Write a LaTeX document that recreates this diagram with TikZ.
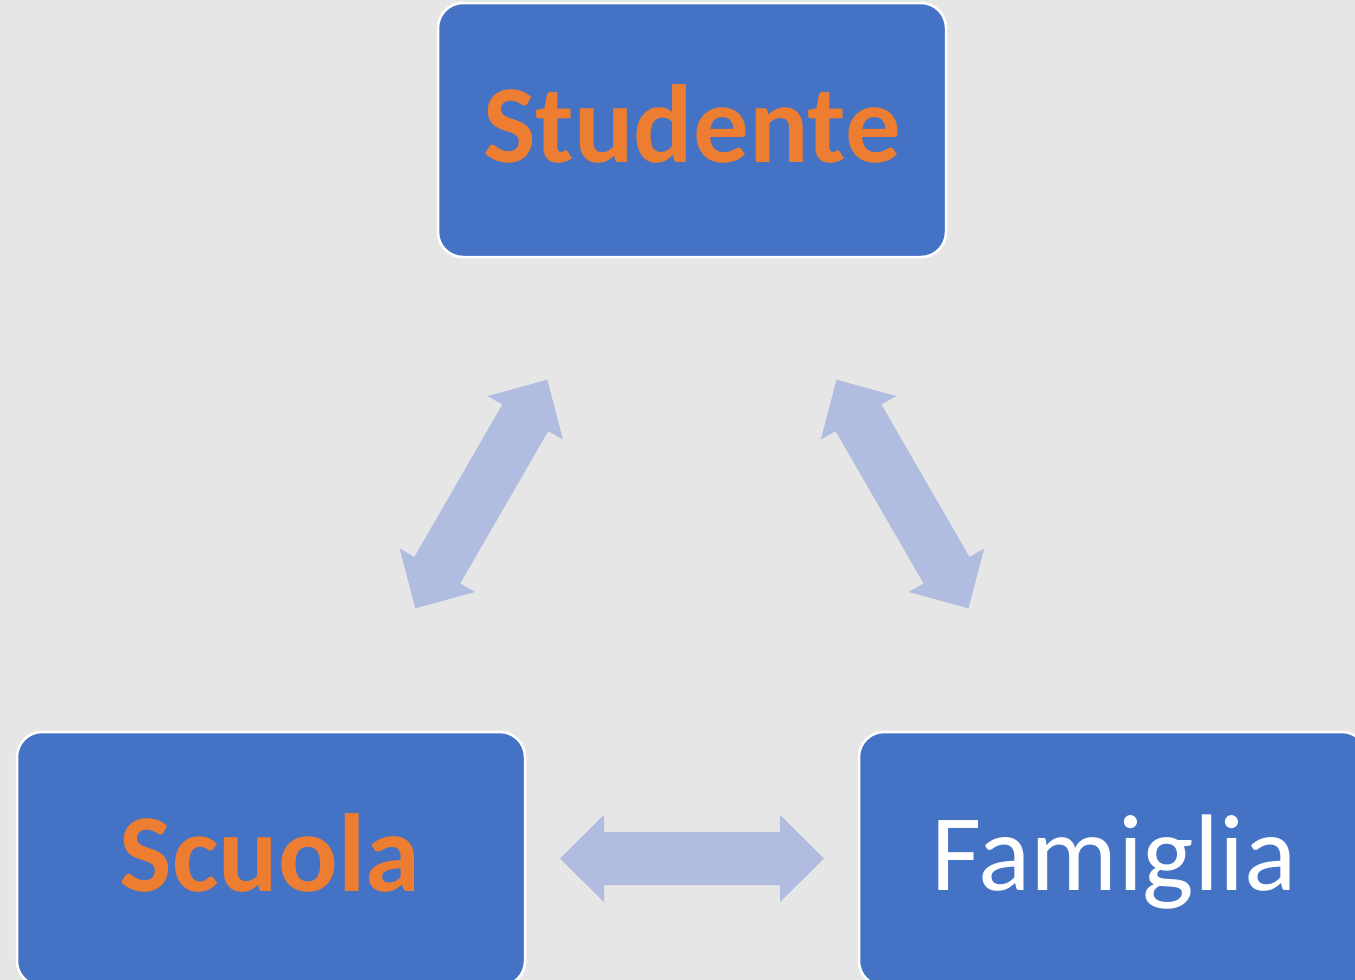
\documentclass[tikz,border=0pt]{standalone}
\usepackage{fontspec}
\setmainfont{Carlito}
\definecolor{bgcol}{HTML}{E7E6E6}
\definecolor{boxblue}{HTML}{4472C4}
\definecolor{txtorange}{HTML}{ED7D31}
\definecolor{arrowblue}{HTML}{B0BDE0}
\tikzset{
  boxnode/.style={draw=white, line width=2.5pt, fill=boxblue, rounded corners=25pt,
    minimum width=508pt, minimum height=254pt, inner sep=0pt},
  boldlabel/.style={anchor=base, text=txtorange, font=\fontsize{111}{125}\selectfont\bfseries, inner sep=0pt},
  plainlabel/.style={anchor=base, text=white, font=\fontsize{109}{125}\selectfont, inner sep=0pt},
  dblarrow/.pic={
    \fill[arrowblue] (-132,0) -- (-88,-43.5) -- (-88,-26.5) -- (88,-26.5) -- (88,-43.5)
      -- (132,0) -- (88,43.5) -- (88,26.5) -- (-88,26.5) -- (-88,43.5) -- cycle;
  }
}
\begin{document}
\begin{tikzpicture}[x=1pt,y=-1pt]
\useasboundingbox (0,0) rectangle (1355,980);
\fill[bgcol] (0,0) rectangle (1355,980);
\clip (0,0) rectangle (1355,980);
% boxes
\node[boxnode] (studente) at (692,130) {};
\node[boxnode] (scuola) at (271,859) {};
\node[boxnode] (famiglia) at (1113,859) {};
% labels
\node[boldlabel] (tstudente) at (692,162) {Studente};
\node[boldlabel] (tscuola) at (270,891) {Scuola};
\node[plainlabel] (tfamiglia) at (1114,890) {Famiglia};
% block arrows
\pic[rotate=60] (arrL) at (481.3,494) {dblarrow};
\pic[rotate=-60] (arrR) at (902.5,494) {dblarrow};
\pic (arrB) at (692,858.5) {dblarrow};
\end{tikzpicture}
\end{document}
